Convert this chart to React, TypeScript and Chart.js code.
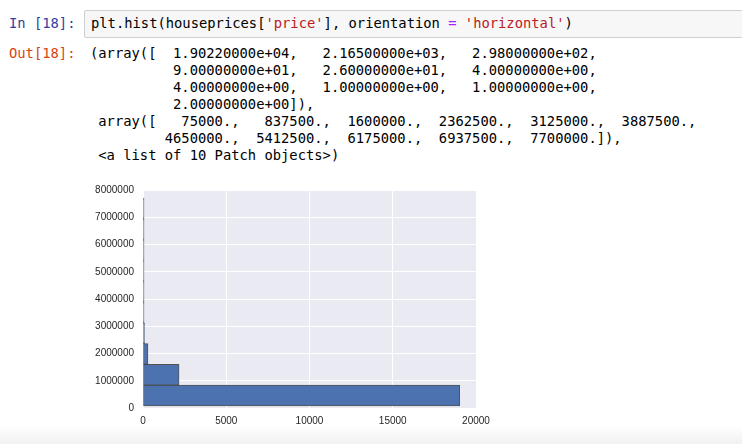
import React, { useEffect, useRef } from "react";
import { Chart, registerables } from "chart.js";

Chart.register(...registerables);

// Histogram data (price bins, horizontal orientation)
const binEdges = [75000, 837500, 1600000, 2362500, 3125000, 3887500, 4650000, 5412500, 6175000, 6937500, 7700000];
const counts = [19022, 2165, 298, 90, 26, 4, 4, 1, 1, 2];
const yTickValues = [0, 1000000, 2000000, 3000000, 4000000, 5000000, 6000000, 7000000, 8000000];
const xTickValues = [0, 5000, 10000, 15000, 20000];

const inputCode: [string, string][] = [
  ["plt.hist(houseprices[", "#000"],
  ["'price'", "#BA2121"],
  ["], orientation ", "#000"],
  ["=", "#AA22FF"],
  [" ", "#000"],
  ["'horizontal'", "#BA2121"],
  [")", "#000"],
];

const outputLines = [
  "(array([  1.90220000e+04,   2.16500000e+03,   2.98000000e+02,",
  "          9.00000000e+01,   2.60000000e+01,   4.00000000e+00,",
  "          4.00000000e+00,   1.00000000e+00,   1.00000000e+00,",
  "          2.00000000e+00]),",
  " array([   75000.,   837500.,  1600000.,  2362500.,  3125000.,  3887500.,",
  "         4650000.,  5412500.,  6175000.,  6937500.,  7700000.]),",
  " <a list of 10 Patch objects>)",
];

const MONO = "'DejaVu Sans Mono', 'Liberation Mono', monospace";

const bgPlugin = {
  id: "axesBg",
  beforeDraw(chart: any) {
    const { ctx, chartArea } = chart;
    ctx.save();
    ctx.fillStyle = "#EAEAF2";
    ctx.fillRect(chartArea.left, chartArea.top, chartArea.right - chartArea.left, chartArea.bottom - chartArea.top);
    ctx.restore();
  },
};

function HistChart() {
  const ref = useRef<HTMLCanvasElement | null>(null);
  useEffect(() => {
    if (!ref.current) return;
    const data = counts.map((c, i) => ({ x: c, y: (binEdges[i] + binEdges[i + 1]) / 2 }));
    const tickFont = { family: "'Liberation Sans', Arial, sans-serif", size: 10 };
    const chart = new Chart(ref.current, {
      type: "bar",
      data: {
        datasets: [
          {
            data,
            backgroundColor: "#4C72B0",
            borderColor: "rgba(45,45,45,0.8)",
            borderWidth: 1,
            borderSkipped: false,
            barPercentage: 1,
            categoryPercentage: 1,
            minBarLength: 1,
          } as any,
        ],
      },
      options: {
        indexAxis: "y",
        animation: false,
        responsive: false,
        maintainAspectRatio: false,
        layout: { padding: { left: 0, top: 13, right: 24, bottom: 0 } },
        plugins: { legend: { display: false }, tooltip: { enabled: false } },
        scales: {
          x: {
            type: "linear",
            min: 0,
            max: 20000,
            offset: false,
            afterBuildTicks: (s: any) => {
              s.ticks = xTickValues.map((v) => ({ value: v }));
            },
            afterFit: (s: any) => {
              s.height = 22;
            },
            grid: { color: "#ffffff", lineWidth: 1, drawTicks: false, offset: false },
            border: { display: false },
            ticks: {
              padding: 7,
              color: "#262626",
              font: tickFont,
              maxRotation: 0,
              autoSkip: false,
              callback: (v: any) => String(v),
            },
          },
          y: {
            type: "linear",
            min: 0,
            max: 8000000,
            offset: false,
            afterBuildTicks: (s: any) => {
              s.ticks = yTickValues.map((v) => ({ value: v }));
            },
            afterFit: (s: any) => {
              s.width = 63;
            },
            grid: { color: "#ffffff", lineWidth: 1, drawTicks: false, offset: false },
            border: { display: false },
            ticks: {
              padding: 9,
              color: "#262626",
              font: tickFont,
              autoSkip: false,
              callback: (v: any) => String(v),
            },
          },
        },
      } as any,
      plugins: [bgPlugin],
    });
    return () => chart.destroy();
  }, []);
  return (
    <canvas
      ref={ref}
      width={420}
      height={255}
      style={{ position: "absolute", left: 80, top: 175, width: 420, height: 255 }}
    />
  );
}

export default function App() {
  return (
    <div
      style={{
        position: "fixed",
        left: 0,
        top: 0,
        width: 742,
        height: 444,
        overflow: "hidden",
        background: "#fff",
      }}
    >
      {/* bottom fade */}
      <div
        style={{
          position: "absolute",
          left: 0,
          top: 426,
          width: 742,
          height: 18,
          background: "linear-gradient(#ffffff, #f1f1f1)",
        }}
      />
      {/* input prompt */}
      <div
        style={{
          position: "absolute",
          left: 9,
          top: 15,
          fontFamily: MONO,
          fontSize: 13.8,
          lineHeight: "17px",
          color: "#303F9F",
          whiteSpace: "pre",
        }}
      >
        In [18]:
      </div>
      {/* input box */}
      <div
        style={{
          position: "absolute",
          left: 84,
          top: 10,
          width: 680,
          height: 26,
          background: "#f7f7f7",
          border: "1px solid #cfcfcf",
          borderRadius: 2,
        }}
      />
      <div
        style={{
          position: "absolute",
          left: 91,
          top: 15,
          fontFamily: MONO,
          fontSize: 13.8,
          lineHeight: "17px",
          whiteSpace: "pre",
        }}
      >
        {inputCode.map(([t, c], i) => (
          <span key={i} style={{ color: c }}>
            {t}
          </span>
        ))}
      </div>
      {/* output prompt */}
      <div
        style={{
          position: "absolute",
          left: 9,
          top: 45,
          fontFamily: MONO,
          fontSize: 13.8,
          lineHeight: "17px",
          color: "#D84315",
          whiteSpace: "pre",
        }}
      >
        Out[18]:
      </div>
      <div
        style={{
          position: "absolute",
          left: 90,
          top: 45,
          fontFamily: MONO,
          fontSize: 13.8,
          lineHeight: "17px",
          color: "#000",
          whiteSpace: "pre",
        }}
      >
        {outputLines.map((l, i) => (
          <div key={i}>{l}</div>
        ))}
      </div>
      <HistChart />
    </div>
  );
}
